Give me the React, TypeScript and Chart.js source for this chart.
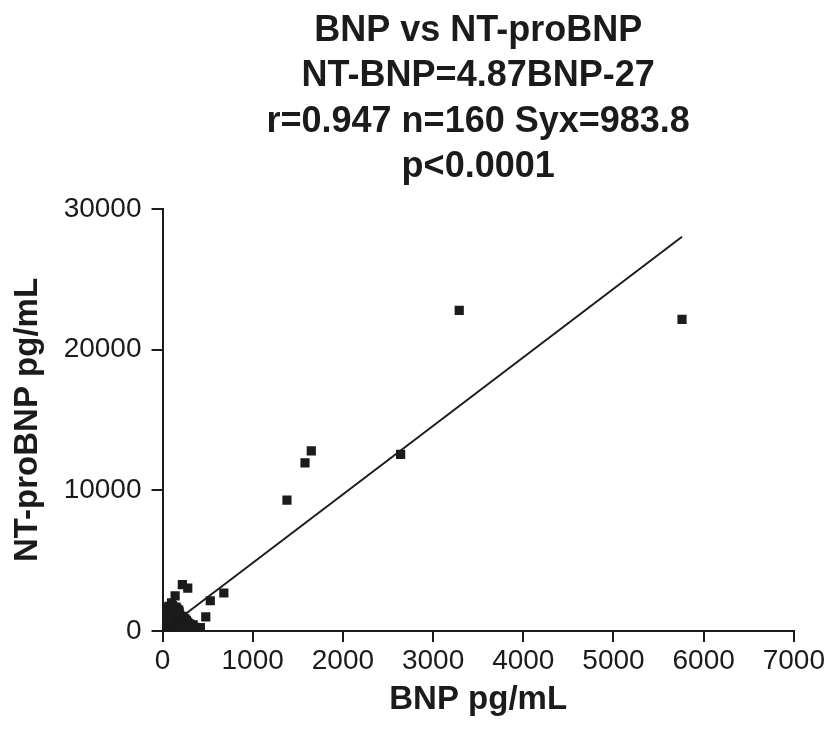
import React, { useEffect, useRef } from "react";
import { Chart, registerables } from "chart.js";

Chart.register(...registerables);

const titleLines = [
  "BNP vs NT-proBNP",
  "NT-BNP=4.87BNP-27",
  "r=0.947 n=160 Syx=983.8",
  "p<0.0001",
];
const xAxisTitle = "BNP pg/mL";
const yAxisTitle = "NT-proBNP pg/mL";

const xTicks = [0, 1000, 2000, 3000, 4000, 5000, 6000, 7000];
const yTicks = [0, 10000, 20000, 30000];

const slope = 4.87;
const intercept = -27;

// BNP (pg/mL) values
const bnpValues = [
  8, 12, 15, 20, 22, 25, 28, 30, 33, 35, 38, 40, 42, 45, 47, 50, 52, 55, 58, 60,
  62, 65, 68, 70, 72, 75, 78, 80, 82, 85, 88, 90, 92, 95, 98, 100, 103, 105, 108, 110,
  113, 115, 118, 120, 123, 125, 128, 130, 133, 135, 138, 140, 143, 145, 148, 150, 153, 155, 158, 160,
  163, 165, 168, 170, 173, 175, 178, 180, 183, 185, 188, 190, 193, 195, 198, 200, 205, 208, 210, 215,
  218, 220, 225, 228, 230, 235, 238, 240, 245, 248, 250, 255, 258, 260, 265, 270, 275, 280, 285, 290,
  295, 300, 310, 315, 320, 330, 340, 350, 360, 380, 400, 420, 18, 25, 32, 40, 48, 55, 62, 70,
  78, 88, 96, 105, 112, 10, 14, 20, 27, 35, 44, 5, 6, 9, 11, 16, 24, 30, 66, 74,
  86, 130, 150, 160, 185, 3, 7,
  5760, 3290, 2640, 1650, 1580, 1380, 680, 530, 480, 220, 280, 140, 100,
];

// NT-proBNP (pg/mL) values
const ntValues = [
  45, 90, 60, 150, 210, 80, 320, 120, 260, 55, 400, 180, 95, 520, 230, 140, 350, 70, 610, 290,
  180, 450, 110, 720, 330, 240, 560, 160, 880, 410, 270, 650, 130, 950, 380, 220, 500, 1100, 300, 760,
  190, 1250, 430, 620, 260, 1400, 540, 850, 340, 1000, 150, 680, 1550, 420, 900, 250, 1200, 580, 360, 780,
  1350, 200, 470, 1050, 650, 310, 880, 1480, 530, 170, 720, 1150, 400, 950, 260, 610, 1000, 480, 820, 350,
  1050, 560, 210, 900, 700, 420, 900, 300, 780, 520, 850, 180, 640, 380, 760, 250, 560, 620, 330, 450,
  150, 500, 280, 420, 200, 350, 430, 120, 260, 180, 90, 250, 500, 700, 900, 1100, 1300, 1500, 1650, 1750,
  1600, 1450, 1700, 1550, 1800, 300, 650, 850, 1000, 1200, 1400, 150, 400, 550, 750, 950, 1150, 1350, 960, 1200,
  1050, 1650, 1700, 1600, 1350, 30, 20,
  22150, 22800, 12550, 12800, 11950, 9300, 2700, 2150, 1000, 3300, 3050, 2500, 2000,
];

const FONT = "'Liberation Sans', Arial, Helvetica, sans-serif";
const INK = "#1b1b1b";

export default function App() {
  const canvasRef = useRef<HTMLCanvasElement | null>(null);

  useEffect(() => {
    if (!canvasRef.current) return;
    const points = bnpValues.map((x, i) => ({ x, y: ntValues[i] }));
    const minX = Math.min(...bnpValues);
    const maxX = Math.max(...bnpValues);
    const fitLine = [minX, maxX].map((x) => ({ x, y: slope * x + intercept }));

    const chart = new Chart(canvasRef.current, {
      type: "scatter",
      data: {
        datasets: [
          {
            label: "data",
            data: points,
            pointStyle: "rect",
            pointRadius: 6.5,
            pointHoverRadius: 6.5,
            backgroundColor: INK,
            borderColor: INK,
            borderWidth: 0,
          },
          {
            type: "line",
            label: "fit",
            data: fitLine,
            borderColor: INK,
            borderWidth: 2,
            pointRadius: 0,
            fill: false,
          },
        ],
      },
      options: {
        animation: false,
        responsive: true,
        maintainAspectRatio: false,
        layout: { padding: { left: 0, right: 16, top: 0, bottom: 0 } },
        plugins: {
          legend: { display: false },
          tooltip: { enabled: false },
          title: {
            display: true,
            text: titleLines,
            fullSize: false,
            color: INK,
            font: { family: FONT, size: 36, weight: "bold", lineHeight: "45.5px" },
            padding: { top: 0, bottom: 19 },
          },
        },
        scales: {
          x: {
            type: "linear",
            min: 0,
            max: 7000,
            afterBuildTicks: (scale: any) => {
              scale.ticks = xTicks.map((v) => ({ value: v }));
            },
            afterFit: (scale: any) => {
              scale.height = 92;
            },
            border: { display: true, color: INK, width: 2 },
            grid: {
              drawOnChartArea: false,
              drawTicks: true,
              tickLength: 11,
              color: INK,
              lineWidth: 2,
            },
            ticks: {
              color: INK,
              padding: 2,
              maxRotation: 0,
              autoSkip: false,
              font: { family: FONT, size: 28 },
              callback: (v: any) => String(v),
            },
            title: {
              display: true,
              text: xAxisTitle,
              color: INK,
              font: { family: FONT, size: 33, weight: "bold", lineHeight: 1.2 },
              padding: { top: 0, bottom: 3 },
            },
          },
          y: {
            type: "linear",
            min: 0,
            max: 30000,
            afterBuildTicks: (scale: any) => {
              scale.ticks = yTicks.map((v) => ({ value: v }));
            },
            afterFit: (scale: any) => {
              scale.width = 154.5;
            },
            border: { display: true, color: INK, width: 2 },
            grid: {
              drawOnChartArea: false,
              drawTicks: true,
              tickLength: 11,
              color: INK,
              lineWidth: 2,
            },
            ticks: {
              color: INK,
              padding: 10,
              font: { family: FONT, size: 28 },
              callback: (v: any) => String(v),
            },
            title: {
              display: true,
              text: yAxisTitle,
              color: INK,
              font: { family: FONT, size: 33, weight: "bold", lineHeight: 1.2 },
              padding: { top: 0, bottom: 0 },
            },
          },
        },
      },
    });
    return () => chart.destroy();
  }, []);

  return (
    <div style={{ position: "relative", width: 819, height: 715, background: "#fff" }}>
      <canvas ref={canvasRef} />
    </div>
  );
}
